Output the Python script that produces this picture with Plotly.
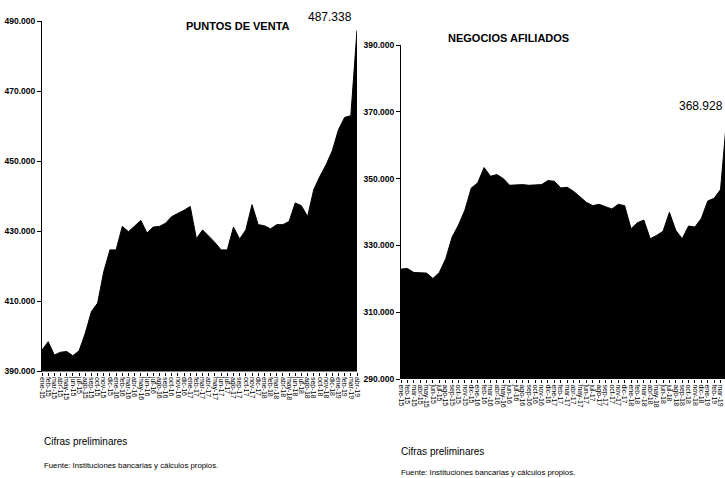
import plotly.graph_objects as go

MONTHS = [f"{m}-{y}" for y in ["15", "16", "17", "18", "19"]
          for m in ["ene", "feb", "mar", "abr", "may", "jun", "jul", "ago", "sep", "oct", "nov", "dic"]][:52]

PUNTOS_VENTA = [396100, 398500, 394700, 395500, 395700, 394500, 395900, 400900, 407100, 409500,
                418500, 424700, 424700, 431400, 429900, 431600, 433100, 429500, 431200, 431400,
                432300, 434200, 435000, 436000, 437100, 427900, 430400, 428700, 426800, 424700,
                424700, 431200, 427800, 430400, 437600, 431900, 431600, 430700, 431900, 431900,
                432800, 438100, 437300, 434200, 441900, 445700, 449000, 453000, 459000, 462500,
                463000, 487338]

NEGOCIOS_AFILIADOS = [322900, 323100, 321900, 321700, 321700, 320100, 321900, 326000, 332500, 336100,
                      340600, 347200, 348700, 353300, 350700, 351200, 350000, 348000, 348200, 348200,
                      348000, 348000, 348200, 349400, 349200, 347200, 347400, 346200, 344600, 342900,
                      341900, 342300, 341600, 340900, 342300, 341900, 335000, 336800, 337600, 332000,
                      333000, 334200, 339900, 334500, 332000, 335800, 335500, 338100, 343300, 344100,
                      346700, 368928]

TITLES = ["PUNTOS DE VENTA", "NEGOCIOS AFILIADOS"]
NOTE1 = "Cifras preliminares"
NOTE2 = "Fuente: Instituciones bancarias y cálculos propios."

W, H = 725, 478
FONT = "Liberation Sans, Arial, sans-serif"


def px(x):
    return x / W


def py(y):
    return 1 - y / H


def fmt(v):
    return f"{v:,.0f}".replace(",", ".")


fig = go.Figure()
fig.add_trace(go.Scatter(x=MONTHS, y=PUNTOS_VENTA, mode="lines", fill="tozeroy",
                         line=dict(color="black", width=1), fillcolor="black",
                         xaxis="x", yaxis="y", hoverinfo="skip"))
fig.add_trace(go.Scatter(x=MONTHS, y=NEGOCIOS_AFILIADOS, mode="lines", fill="tozeroy",
                         line=dict(color="black", width=1), fillcolor="black",
                         xaxis="x2", yaxis="y2", hoverinfo="skip"))

xcommon = dict(type="category", tickmode="array", tickvals=MONTHS, ticktext=MONTHS,
               tickangle=90, tickfont=dict(size=7, family=FONT, color="black"),
               ticks="outside", ticklen=3, tickcolor="black", showgrid=False, showline=False,
               zeroline=False, automargin=False, fixedrange=True)
ycommon = dict(dtick=20000, tickformat=",.0f", ticks="outside", ticklen=4, tickcolor="black",
               showgrid=False, showline=True, linecolor="black", linewidth=1, zeroline=False,
               tickfont=dict(size=8.5, family=FONT, color="black", weight="bold"),
               automargin=False, fixedrange=True)

fig.update_layout(
    width=W, height=H, margin=dict(l=0, r=0, t=0, b=0),
    paper_bgcolor="white", plot_bgcolor="white", showlegend=False,
    separators=",.",
    xaxis=dict(domain=[px(42), px(357)], anchor="y", range=[0, 51], **xcommon),
    yaxis=dict(domain=[py(371.5), py(21)], anchor="x", range=[390000, 490000], tick0=390000, **ycommon),
    xaxis2=dict(domain=[px(401), 1.0], anchor="y2", range=[0, 50.7], **xcommon),
    yaxis2=dict(domain=[py(379), py(45)], anchor="x2", range=[290000, 390000], tick0=290000, **ycommon),
)

ann = []
ann.append(dict(text=f"<b>{TITLES[0]}</b>", x=px(184), y=py(18), xref="paper", yref="paper",
                showarrow=False, font=dict(size=11, family=FONT, color="black")))
ann.append(dict(text=f"<b>{TITLES[1]}</b>", x=px(571), y=py(30), xref="paper", yref="paper",
                showarrow=False, font=dict(size=11, family=FONT, color="black")))
ann.append(dict(text=fmt(PUNTOS_VENTA[-1]), x=MONTHS[-1], y=PUNTOS_VENTA[-1], xref="x", yref="y",
                xanchor="right", yanchor="bottom", xshift=-3, yshift=4, showarrow=False,
                font=dict(size=12, family=FONT, color="black")))
ann.append(dict(text=fmt(NEGOCIOS_AFILIADOS[-1]), x=1.0, y=NEGOCIOS_AFILIADOS[-1], xref="paper", yref="y2",
                xanchor="right", yanchor="bottom", showarrow=False,
                font=dict(size=12, family=FONT, color="black")))
for x0, y1, y2 in [(42, 441, 465), (399, 451, 472)]:
    ann.append(dict(text=NOTE1, x=px(x0), y=py(y1), xref="paper", yref="paper", xanchor="left",
                    yanchor="middle", showarrow=False, font=dict(size=10, family=FONT, color="black")))
    ann.append(dict(text=NOTE2, x=px(x0), y=py(y2), xref="paper", yref="paper", xanchor="left",
                    yanchor="middle", showarrow=False, font=dict(size=7.8, family=FONT, color="black")))
fig.update_layout(annotations=ann)

fig.write_html("out.html", config={"displayModeBar": False},
               post_script="document.body.style.margin='0';document.body.style.overflow='hidden';")
